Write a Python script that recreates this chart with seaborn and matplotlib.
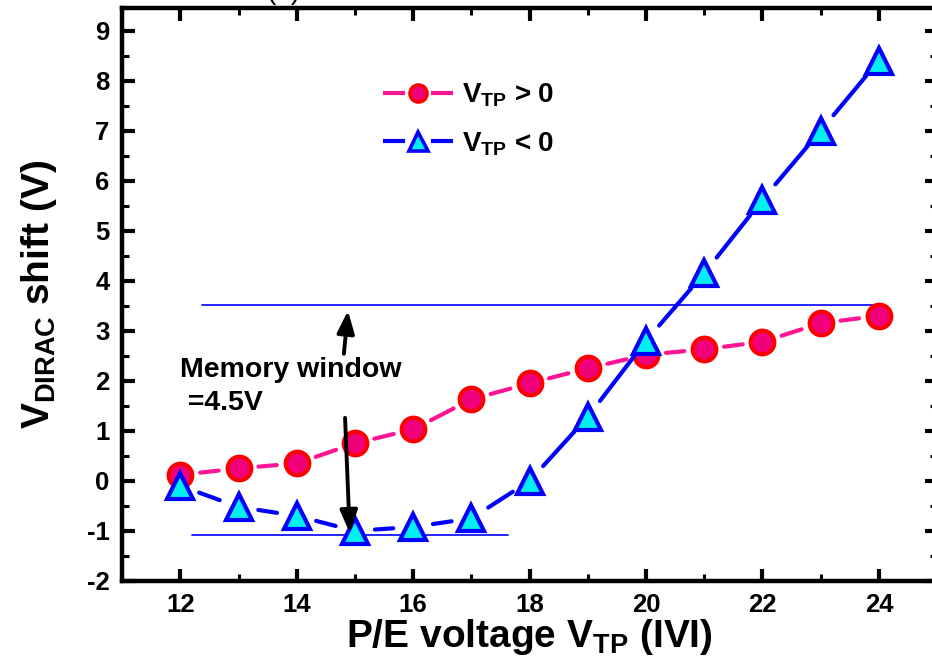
import numpy as np
import pandas as pd
import matplotlib
matplotlib.use("Agg")
import matplotlib.pyplot as plt
import seaborn as sns
from matplotlib.lines import Line2D
from matplotlib.ticker import MultipleLocator

# P/E voltage magnitudes and the Dirac-point shift for both polarities
vtp = [12, 13, 14, 15, 16, 17, 18, 19, 20, 21, 22, 23, 24]
shift_pos = [0.12, 0.25, 0.35, 0.75, 1.03, 1.63, 1.95, 2.25, 2.52, 2.63, 2.78, 3.15, 3.30]
shift_neg = [-0.10, -0.52, -0.70, -1.00, -0.92, -0.75, 0.00, 1.28, 2.80, 4.15, 5.62, 7.00, 8.40]

# memory window reference levels
window_top = 3.52
window_bottom = -1.08
window_label = "Memory window\n =4.5V"

sns.set_theme(style="ticks")
plt.rcParams["font.family"] = ["Liberation Sans", "DejaVu Sans"]
plt.rcParams["font.weight"] = "bold"
plt.rcParams["mathtext.fontset"] = "custom"
plt.rcParams["mathtext.rm"] = "Liberation Sans:bold"
plt.rcParams["mathtext.bf"] = "Liberation Sans:bold"
plt.rcParams["mathtext.default"] = "bf"
plt.rcParams["axes.unicode_minus"] = False
for key in ["text.color", "axes.labelcolor", "xtick.color", "ytick.color", "axes.edgecolor"]:
    plt.rcParams[key] = "black"

fig = plt.figure(figsize=(9.32, 6.67), dpi=100)
ax = fig.add_axes([0.131, 0.129, 0.8745, 0.859])
ax.set_xlim(11, 25)
ax.set_ylim(-2, 9.45)

pos_style = dict(line="#FF1493", face="#F0007A", edge="#FF0000", marker="o", size=17)
neg_style = dict(line="#0000FF", face="#00F0F0", edge="#0000FF", marker="^", size=19)
LINE_W = 3
GAP_PX = 20  # blank space left around each symbol


def gapped_segments(xs, ys, gap_px):
    """Connecting segments between neighbouring points, trimmed near each symbol."""
    pts = ax.transData.transform(np.column_stack([xs, ys]))
    rows = []
    for i in range(len(pts) - 1):
        p0, p1 = pts[i], pts[i + 1]
        d = p1 - p0
        n = np.hypot(*d)
        if n <= 2 * gap_px:
            continue
        u = d / n
        a, b = ax.transData.inverted().transform([p0 + u * gap_px, p1 - u * gap_px])
        rows += [(a[0], a[1], i), (b[0], b[1], i)]
    return pd.DataFrame(rows, columns=["x", "y", "seg"])


for ys, st, z in [(shift_pos, pos_style, 4), (shift_neg, neg_style, 5)]:
    seg = gapped_segments(vtp, ys, GAP_PX)
    sns.lineplot(data=seg, x="x", y="y", units="seg", estimator=None, sort=False,
                 ax=ax, color=st["line"], lw=LINE_W, zorder=z - 0.5, legend=False)
    pts = pd.DataFrame({"x": vtp, "y": ys})
    sns.lineplot(data=pts, x="x", y="y", ax=ax, linestyle="", marker=st["marker"],
                 markersize=st["size"], markerfacecolor=st["face"],
                 markeredgecolor=st["edge"], markeredgewidth=3, zorder=z, legend=False)

ax.plot([12.38, 24.0], [window_top, window_top], color="#0000FF", lw=1.2, zorder=3)
ax.plot([12.2, 17.63], [window_bottom, window_bottom], color="#0000FF", lw=1.2, zorder=3)

arrow_style = dict(arrowstyle="-|>,head_length=0.9,head_width=0.35", color="black",
                   lw=2.8, shrinkA=0, shrinkB=0, mutation_scale=15)
ax.annotate("", xy=(14.88, 3.40), xytext=(14.81, 2.54), arrowprops=arrow_style)
ax.annotate("", xy=(14.91, -1.04), xytext=(14.83, 1.26), arrowprops=arrow_style, zorder=6)
ax.text(12.0, 2.48, window_label, fontsize=20.5, fontweight="bold", ha="left",
        va="top", linespacing=1.38)

ax.xaxis.set_major_locator(MultipleLocator(2))
ax.xaxis.set_minor_locator(MultipleLocator(1))
ax.yaxis.set_major_locator(MultipleLocator(1))
ax.yaxis.set_minor_locator(MultipleLocator(0.5))
ax.tick_params(which="major", direction="in", length=9, width=3,
               top=True, right=True, labelsize=18.5, pad=9)
ax.tick_params(which="minor", direction="in", length=5, width=2.2,
               top=True, right=True)
for lbl in ax.get_xticklabels() + ax.get_yticklabels():
    lbl.set_fontweight("bold")
for sp in ax.spines.values():
    sp.set_linewidth(3.2)

ax.set_xlabel(r"P/E voltage V$_{\mathbf{TP}}$ (IVI)", fontsize=28, fontweight="bold", labelpad=0)
ax.set_ylabel(r"V$_{\mathbf{DIRAC}}$ shift (V)", fontsize=28, fontweight="bold", labelpad=20)

# legend keys: short line pieces on either side of the symbol
key_dash = (0, (5.3, 6.2))
handles = [
    Line2D([], [], color=st["line"], lw=LINE_W, linestyle=key_dash, marker=st["marker"],
           markersize=st["size"] * 0.72, markerfacecolor=st["face"],
           markeredgecolor=st["edge"], markeredgewidth=2.6)
    for st in (pos_style, neg_style)
]
ax.legend(handles, [r"V$_{\mathbf{TP}}$ > 0", r"V$_{\mathbf{TP}}$ < 0"],
          loc="upper left", bbox_to_anchor=(0.29, 0.915), frameon=False,
          fontsize=20, handlelength=2.52, handletextpad=0.3, labelspacing=0.75,
          numpoints=1)

# panel tag above the plot frame
fig.text(0.304, 1 + 1 / 667, "(a)", fontsize=20, fontweight="normal",
         ha="center", va="baseline")

fig.savefig("out.png", dpi=100)
